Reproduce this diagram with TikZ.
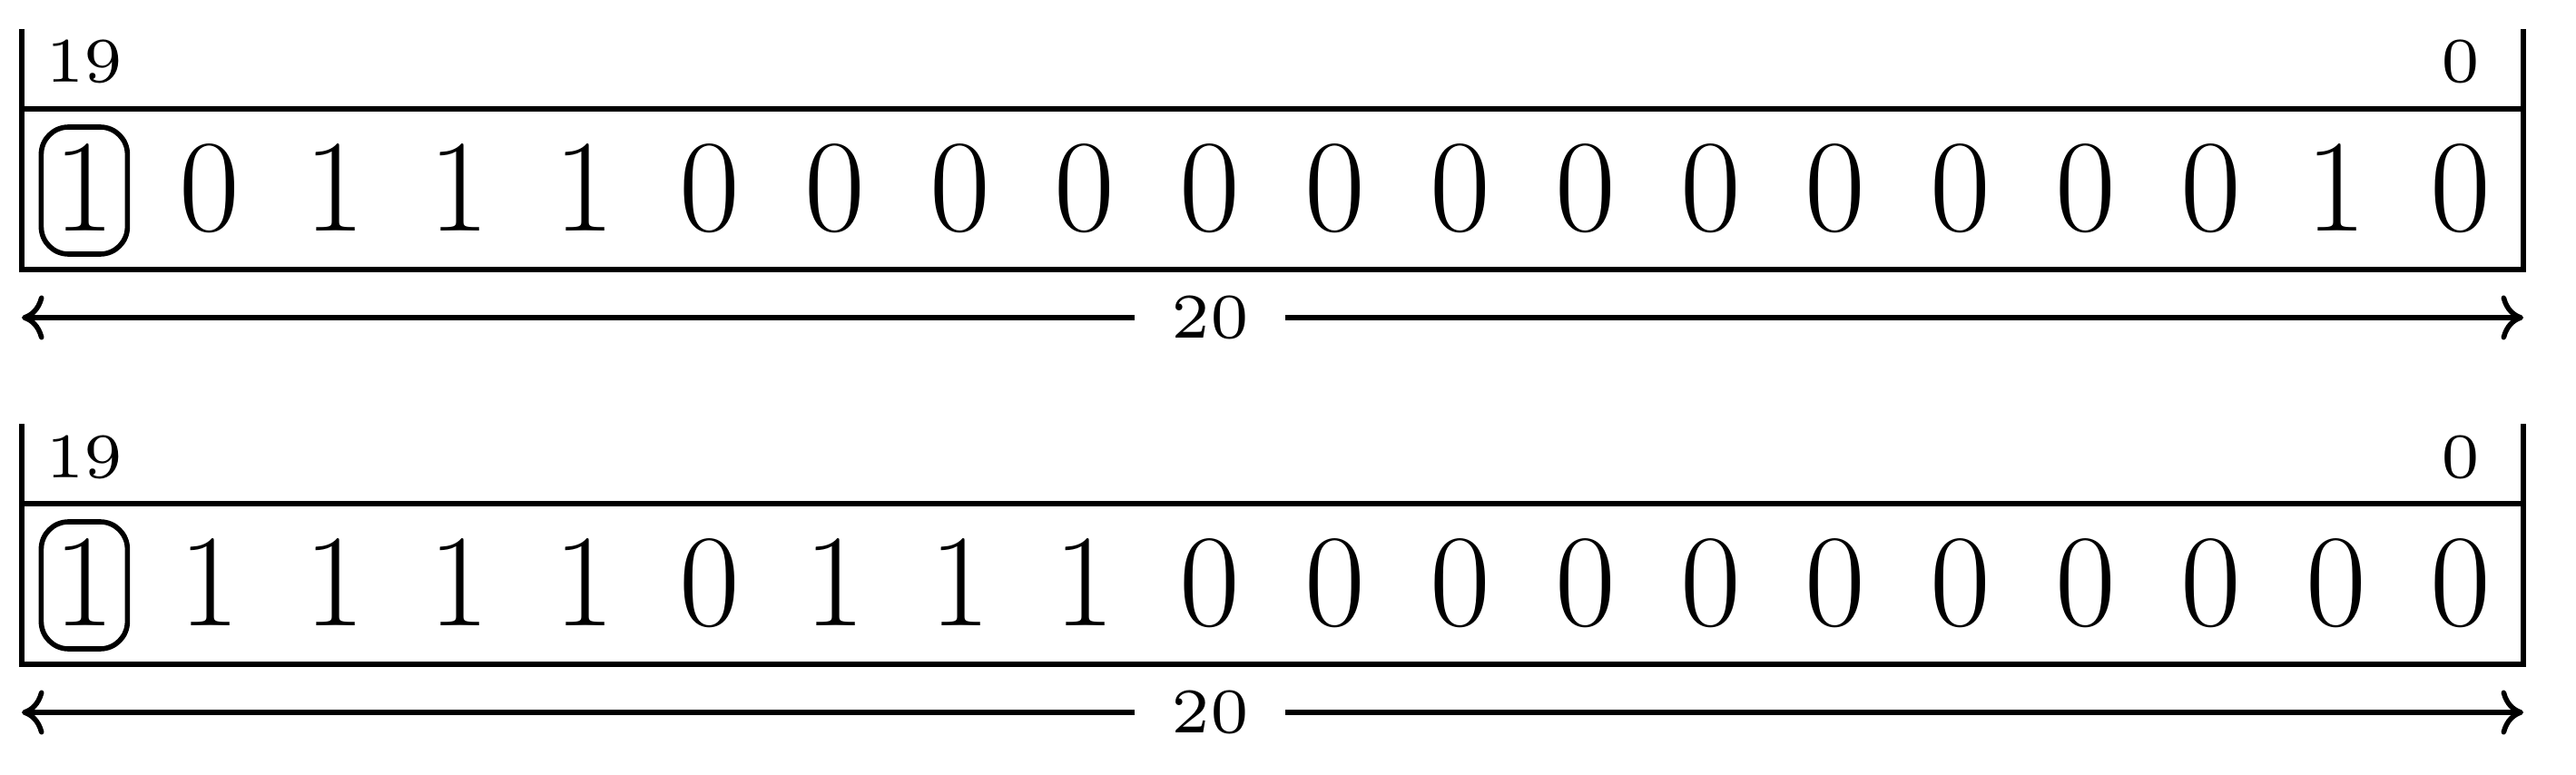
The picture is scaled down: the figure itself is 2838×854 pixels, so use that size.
\documentclass[tikz,border=0pt]{standalone}
\usetikzlibrary{arrows.meta}
\newcommand\lbltxt[1]{\scalebox{1.6667}{\fontsize{6}{7.2}\selectfont #1}}
\newcommand\regblock[4]{%
  % #1 name prefix, #2 vertical offset (px), #3 leading bit, #4 remaining 19 bits
  \begin{scope}[shift={(0,#2)}]
    \draw[frame] (24,32) -- (24,297) -- (2780,297) -- (2780,32);
    \draw[frame] (24,120) -- (2780,120);
    \node[idx] (#1hi) at (92.9,91) {\lbltxt{19}};
    \node[idx] (#1lo) at (2711.1,91) {\lbltxt{0}};
    \node[lead] (#1b0) at (92.9,210) {#3};
    \foreach \b [count=\i] in {#4} {
      \node[bit] (#1b\i) at ({92.9+137.8*\i},210) {\b};
    }
    \coordinate (#1L) at (24,350);
    \coordinate (#1R) at (2780,350);
    \node[len] (#1n) at (1333.1,350) {\lbltxt{20}};
    \draw[frame,->] (#1n) -- (#1R);
    \draw[frame,->] (#1n) -- (#1L);
  \end{scope}}
\begin{document}
\begin{tikzpicture}[x=0.142857pt,y=-0.142857pt,
  >={Computer Modern Rightarrow[length=3.5pt,width=7pt]},
  frame/.style={line width=0.8pt},
  bit/.style={font=\huge, inner sep=0pt, minimum width=13.57pt,
    text height=16.29pt, text depth=3.71pt, anchor=center},
  lead/.style={bit, draw, line width=0.8pt, rounded corners=4.3pt},
  idx/.style={inner sep=0pt, anchor=base},
  len/.style={inner xsep=5.7pt, inner ysep=2pt, outer sep=0pt}]
  \useasboundingbox (0,0) rectangle (2838,854);
  \regblock{a}{0}{1}{0,1,1,1,0,0,0,0,0,0,0,0,0,0,0,0,0,1,0}
  \regblock{b}{435}{1}{1,1,1,1,0,1,1,1,0,0,0,0,0,0,0,0,0,0,0}
\end{tikzpicture}
\end{document}
